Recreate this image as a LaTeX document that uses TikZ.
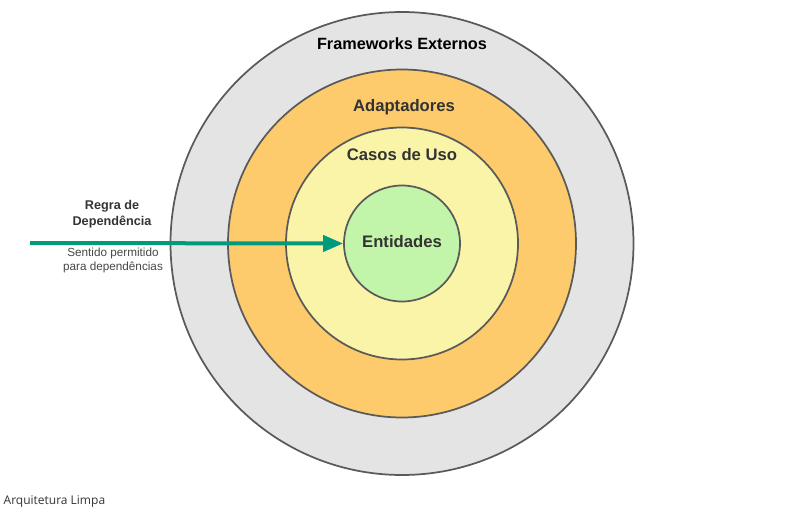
\documentclass[tikz,border=0pt]{standalone}
\usepackage{fontspec}
\setmainfont{Liberation Sans}
\newfontfamily\notefont{Open Sans}
\usetikzlibrary{arrows.meta}
\definecolor{ringstroke}{HTML}{5A5A5A}
\definecolor{outerfill}{HTML}{E4E4E4}
\definecolor{adaptfill}{HTML}{FDCB6B}
\definecolor{casosfill}{HTML}{FAF4A8}
\definecolor{entfill}{HTML}{C2F5AA}
\definecolor{arrowcol}{HTML}{009B7D}
\definecolor{txt}{HTML}{333333}
\tikzset{
  ring/.style={circle, draw=ringstroke, line width=1.3pt, inner sep=0pt},
  ringlabel/.style={font=\bfseries\fontsize{12.5}{14}\selectfont, text=txt},
  smalllabel/.style={font=\bfseries\fontsize{9.5}{12}\selectfont, text=txt, align=center},
  notelabel/.style={font=\fontsize{8.8}{10.5}\selectfont, text=txt!90, align=center},
}
\begin{document}
\begin{tikzpicture}[x=0.75pt,y=-0.75pt]
\useasboundingbox (0,0) rectangle (810,517);
\node[ring, fill=outerfill, minimum size=463*0.75pt] (outer) at (402,243.5) {};
\node[ring, fill=adaptfill, minimum size=348*0.75pt] (adapt) at (402,243.5) {};
\node[ring, fill=casosfill, minimum size=232*0.75pt] (casos) at (402,243.5) {};
\node[ring, fill=entfill, minimum size=116*0.75pt] (ent) at (402,243.5) {};
\node[ringlabel, text=black, font=\bfseries\fontsize{12.2}{14}\selectfont] (lfw) at (402,43.5) {Frameworks Externos};
\node[ringlabel] (lad) at (404,107.5) {Adaptadores};
\node[ringlabel] (lcu) at (402,154.5) {Casos de Uso};
\node[ringlabel] (len) at (402,241.5) {Entidades};
\coordinate (astart) at (30,243);
\draw[arrowcol, line width=3pt, -{Triangle[length=15pt,width=12pt]}] (astart) -- (ent.west);
\node[smalllabel] (regra) at (112,214.5) {Regra de\\Dependência};
\node[notelabel] (sent) at (113,260.5) {Sentido permitido\\para dependências};
\node[anchor=west, font=\notefont\fontsize{9}{11}\selectfont, text=txt] (title) at (-1,502) {Arquitetura Limpa};
\end{tikzpicture}
\end{document}
